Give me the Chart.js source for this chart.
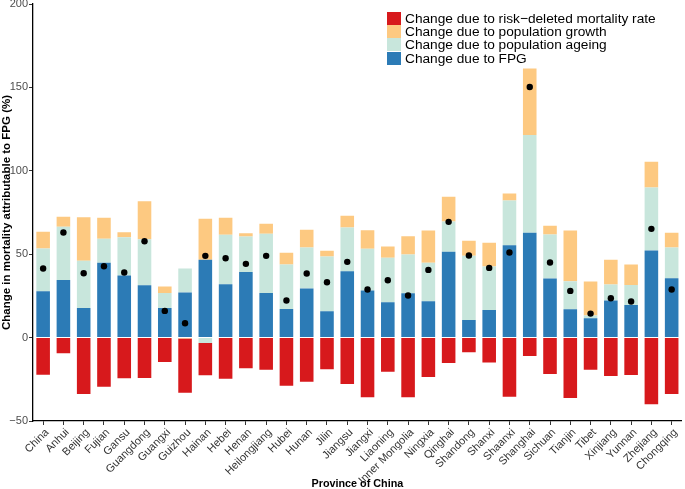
<!DOCTYPE html>
<html>
<head>
<meta charset="utf-8">
<script src="https://cdn.jsdelivr.net/npm/chart.js@4"></script>
<style>
  html, body { margin: 0; padding: 0; background: #fff; }
  #wrap { position: relative; width: 685px; height: 489px; }
  #legend { position: absolute; left: 387px; top: 12px; font-family: "Liberation Sans", Arial, sans-serif; font-size: 13.7px; color: #000; }
  .row { display: flex; align-items: center; height: 13.2px; }
  .box { width: 14px; height: 13px; margin-right: 4px; }
</style>
</head>
<body>
<div id="wrap">
  <canvas id="c" width="685" height="489"></canvas>
  <div id="legend"></div>
</div>
<script>
const categories = ["China","Anhui","Beijing","Fujian","Gansu","Guangdong","Guangxi","Guizhou","Hainan","Hebei","Henan","Heilongjiang","Hubei","Hunan","Jilin","Jiangsu","Jiangxi","Liaoning","Inner Mongolia","Ningxia","Qinghai","Shandong","Shanxi","Shaanxi","Shanghai","Sichuan","Tianjin","Tibet","Xinjiang","Yunnan","Zhejiang","Chongqing"];
const fpg =     [27.8,34.6,17.8,44.8,37.2,31.4,17.8,27.0,46.6,32.0,39.4,26.8,17.2,29.4,15.8,39.8,28.2,21.2,26.6,21.8,51.4,10.6,16.6,55.4,62.8,35.4,17.0,11.6,22.2,19.6,52.2,35.6];
const ageing =  [25.6,31.8,28.2,14.4,23.0,27.6,9.0,14.4,-3.2,29.6,21.2,35.4,26.6,24.6,32.8,26.2,25.0,26.6,23.2,23.0,18.2,38.4,26.0,26.8,58.6,26.4,16.8,1.6,9.6,12.0,37.8,18.4];
const growth =  [10.0,6.0,26.2,12.6,3.0,22.8,3.8,-0.6,24.6,10.2,2.0,6.0,7.0,10.6,3.4,7.0,11.2,6.8,11.0,19.4,14.8,9.0,14.2,4.2,40.0,5.2,30.4,20.4,14.8,12.2,15.4,8.8];
const riskRate =[-22.2,-9.4,-33.8,-29.4,-24.4,-24.2,-14.6,-32.4,-19.4,-24.6,-18.4,-19.2,-28.8,-26.4,-19.0,-27.8,-35.8,-20.4,-35.8,-23.6,-15.2,-8.8,-15.0,-35.4,-11.0,-21.8,-36.2,-19.2,-23.0,-22.4,-40.0,-33.8];
const netChange=[41.4,63.0,38.6,42.8,39.0,57.8,16.0,8.6,49.0,47.6,44.2,49.0,22.2,38.4,33.2,45.4,28.8,34.4,25.2,40.6,69.4,49.2,41.8,51.0,150.2,45.0,28.0,14.4,23.6,21.6,65.2,28.8];
const yTicks = [-50, 0, 50, 100, 150, 200];

const colors = { risk: "#d7191c", growth: "#fdc981", ageing: "#c8e6dc", fpg: "#2c7bb6" };
const legendItems = [
  ["Change due to risk\u2212deleted mortality rate", colors.risk],
  ["Change due to population growth", colors.growth],
  ["Change due to population ageing", colors.ageing],
  ["Change due to FPG", colors.fpg]
];
const lg = document.getElementById("legend");
legendItems.forEach(([t, c]) => {
  const r = document.createElement("div"); r.className = "row";
  const b = document.createElement("div"); b.className = "box"; b.style.background = c;
  const s = document.createElement("span"); s.textContent = t;
  r.appendChild(b); r.appendChild(s); lg.appendChild(r);
});

const FONT = "'Liberation Sans', Arial, sans-serif";
const barCommon = { categoryPercentage: 1.0, barPercentage: 0.67, borderWidth: 0, stack: "s" };

new Chart(document.getElementById("c"), {
  data: {
    labels: categories,
    datasets: [
      { type: "line", label: "Net", data: netChange, showLine: false, pointRadius: 3.2, pointHoverRadius: 3.2,
        pointBackgroundColor: "#000", pointBorderColor: "#000", pointBorderWidth: 0, stack: "dots", order: 0 },
      { type: "bar", label: "FPG", data: fpg, backgroundColor: colors.fpg, ...barCommon, order: 1 },
      { type: "bar", label: "Ageing", data: ageing, backgroundColor: colors.ageing, ...barCommon, order: 1 },
      { type: "bar", label: "Growth", data: growth, backgroundColor: colors.growth, ...barCommon, order: 1 },
      { type: "bar", label: "Risk", data: riskRate, backgroundColor: colors.risk, ...barCommon, order: 1 }
    ]
  },
  options: {
    responsive: false,
    animation: false,
    layout: { padding: { top: 4, right: 2, left: 0, bottom: 0 } },
    plugins: { legend: { display: false }, tooltip: { enabled: false } },
    scales: {
      x: {
        stacked: true,
        grid: { display: true, drawOnChartArea: false, drawTicks: true, tickLength: 4, tickColor: "#333", offset: false },
        border: { display: true, color: "#000", width: 1.3 },
        ticks: { maxRotation: 45, minRotation: 45, autoSkip: false, color: "#333", padding: 1, labelOffset: 4,
                 font: { family: FONT, size: 11 } },
        title: { display: true, text: "Province of China", color: "#000", padding: { top: 0, bottom: -2 },
                 font: { family: FONT, size: 10.8, weight: "bold" } },
        afterFit: (s) => { s.height = 68; }
      },
      y: {
        stacked: true,
        min: -50, max: 200,
        afterBuildTicks: (s) => { s.ticks = yTicks.map(v => ({ value: v })); },
        grid: { display: true, drawOnChartArea: false, drawTicks: true, tickLength: 4, tickColor: "#333" },
        border: { display: true, color: "#000", width: 1.3 },
        ticks: { color: "#4d4d4d", padding: 1, font: { family: FONT, size: 11 },
                 callback: (v) => String(v).replace("-", "\u2212") },
        title: { display: true, text: "Change in mortality attributable to FPG (%)", color: "#000",
                 padding: { top: 0, bottom: 0 }, font: { family: FONT, size: 11.5, weight: "bold" } },
        afterFit: (s) => { s.width = 33; s.paddingTop = 0; s.paddingBottom = 0; }
      }
    }
  }
});
</script>
</body>
</html>
